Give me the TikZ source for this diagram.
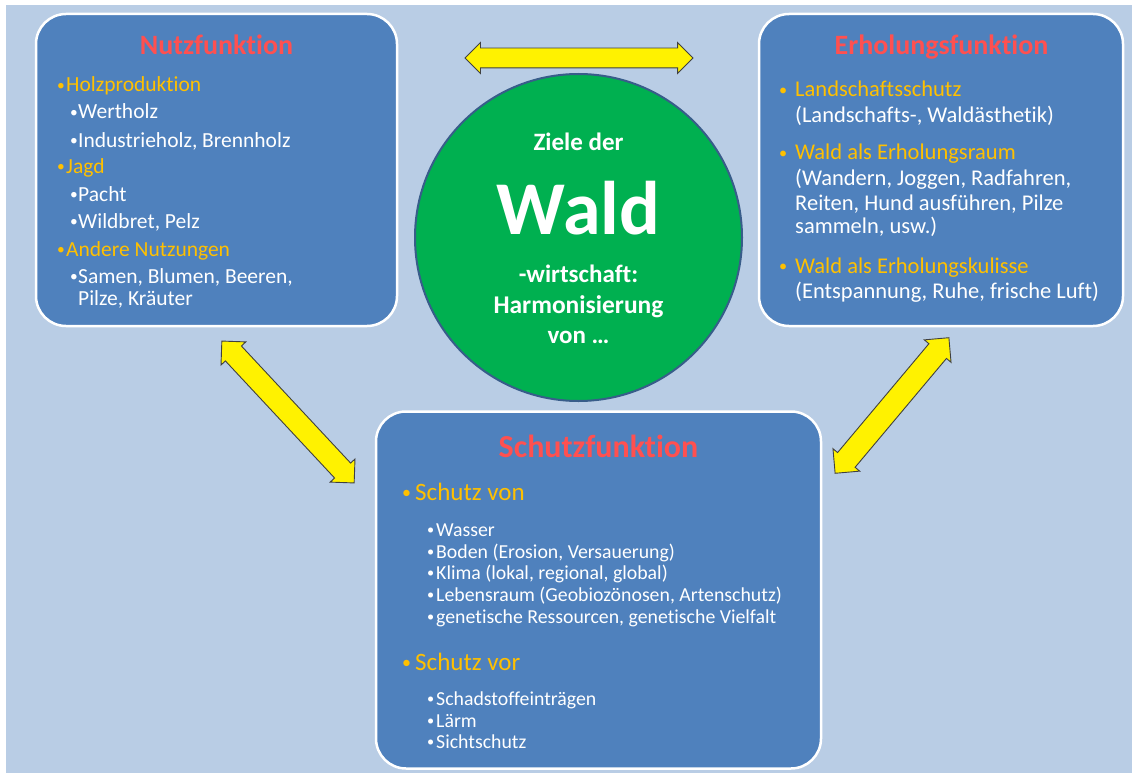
\documentclass[tikz,border=0pt]{standalone}
\usepackage{fontspec}
\setmainfont{Carlito}[Ligatures=NoCommon]
\usetikzlibrary{shapes.arrows}

\definecolor{bgblue}{RGB}{185,205,229}
\definecolor{boxblue}{RGB}{79,129,189}
\definecolor{titlered}{RGB}{255,80,80}
\definecolor{itemgold}{RGB}{255,192,0}
\definecolor{ringblue}{RGB}{56,93,138}
\definecolor{waldgreen}{RGB}{0,176,80}

\newcommand{\bul}[1]{\makebox[#1][l]{\raisebox{0.06em}{\scalebox{0.72}{\textbullet}}}}

\tikzset{
  funcbox/.style={draw=white, line width=2.5pt, fill=boxblue, rounded corners=30pt},
  boxtitle/.style={anchor=base, inner sep=0pt, text=titlered, font=\bfseries\fontsize{28}{30}\selectfont},
  head/.style={anchor=base west, inner sep=0pt, text=itemgold, font=\fontsize{21.5}{24}\selectfont},
  sub/.style={anchor=base west, inner sep=0pt, text=white, font=\fontsize{21.5}{24}\selectfont},
  erhtext/.style={font=\fontsize{22.5}{25}\selectfont},
  centre/.style={anchor=base, inner sep=0pt, text=white, font=\bfseries\fontsize{25}{28}\selectfont},
  link/.style={double arrow, draw=black!75, line width=0.9pt, fill=yellow, inner xsep=0pt,
    double arrow head extend=6pt}
}

\begin{document}
\begin{tikzpicture}[x=1pt,y=-1pt]
  \useasboundingbox (0,0) rectangle (1132,773);
  \fill[white] (0,0) rectangle (1132,773);
  \fill[bgblue] (6,5) rectangle (1132,773);

  % the three functions
  \node[funcbox, minimum width=361pt, minimum height=312pt] (nutz) at (216.5,170) {};
  \node[funcbox, minimum width=364pt, minimum height=312pt] (erh) at (941,170) {};
  \node[funcbox, minimum width=445pt, minimum height=357pt] (schutz) at (598.5,590) {};

  % centre
  \node[circle, draw=ringblue, line width=2pt, fill=waldgreen, minimum size=327pt] (wald) at (578.5,237.5) {};
  \node[centre] (ziele) at (578.5,150) {Ziele der};
  \node[centre, font=\bfseries\fontsize{76}{80}\selectfont] (waldword) at (578.5,234) {Wald};
  \node[centre] (wirt) at (578.5,282) {-wirtschaft:};
  \node[centre, font=\bfseries\fontsize{25.5}{28}\selectfont] (harm) at (578.5,313) {Harmonisierung};
  \node[centre] (von) at (578.5,343) {von …};

  % yellow arrows
  \node[link, minimum height=228pt, inner ysep=9.5pt, double arrow head extend=5.5pt] (topArrow) at (579,58) {};
  \node[link, minimum height=194pt, inner ysep=10.5pt, rotate=-47] (leftArrow) at (288,412) {};
  \node[link, minimum height=177pt, inner ysep=11pt, rotate=50] (rightArrow) at (892,405.5) {};

  % Nutzfunktion
  \node[boxtitle] (nutzT) at (216.5,55) {Nutzfunktion};
  \node[head] (holz) at (57,92) {\bul{9pt}Holzproduktion};
  \node[sub] (holz1) at (70,119) {\bul{8pt}Wertholz};
  \node[sub] (holz2) at (70,147) {\bul{8pt}Industrieholz, Brennholz};
  \node[head] (jagd) at (57,173) {\bul{9pt}Jagd};
  \node[sub] (jagd1) at (70,201) {\bul{8pt}Pacht};
  \node[sub] (jagd2) at (70,228) {\bul{8pt}Wildbret, Pelz};
  \node[head] (andere) at (57,256) {\bul{9pt}Andere Nutzungen};
  \node[sub] (andere1) at (70,283) {\bul{8pt}Samen, Blumen, Beeren,};
  \node[sub] (andere2) at (78,305) {Pilze, Kräuter};

  % Erholungsfunktion
  \node[boxtitle] (erhT) at (941.5,55) {Erholungsfunktion};
  \node[head, erhtext] (land) at (779,97) {\bul{16pt}Landschaftsschutz};
  \node[sub, erhtext] (land1) at (795,123) {(Landschafts-, Waldästhetik)};
  \node[head, erhtext] (raum) at (779,160) {\bul{16pt}Wald als Erholungsraum};
  \node[sub, erhtext] (raum1) at (795,185) {(Wandern, Joggen, Radfahren,};
  \node[sub, erhtext] (raum2) at (795,210) {Reiten, Hund ausführen, Pilze};
  \node[sub, erhtext] (raum3) at (795,233) {sammeln, usw.)};
  \node[head, erhtext] (kul) at (779,273) {\bul{16pt}Wald als Erholungskulisse};
  \node[sub, erhtext] (kul1) at (795,298) {(Entspannung, Ruhe, frische Luft)};

  % Schutzfunktion
  \node[boxtitle, font=\bfseries\fontsize{32}{34}\selectfont] (schutzT) at (598.5,457) {Schutzfunktion};
  \node[head, font=\fontsize{25}{28}\selectfont] (svon) at (402,500) {\bul{13pt}Schutz von};
  \foreach \yy/\txt [count=\i] in {536/Wasser, 558/{Boden (Erosion, Versauerung)},
      579/{Klima (lokal, regional, global)}, 601/{Lebensraum (Geobiozönosen, Artenschutz)},
      623/{genetische Ressourcen, genetische Vielfalt}}
    \node[sub, font=\fontsize{19.8}{22}\selectfont] (svon\i) at (427,\yy) {\bul{9pt}\txt};
  \node[head, font=\fontsize{25}{28}\selectfont] (svor) at (402,670) {\bul{13pt}Schutz vor};
  \foreach \yy/\txt [count=\i] in {705/Schadstoffeinträgen, 727/Lärm, 748/Sichtschutz}
    \node[sub, font=\fontsize{19.8}{22}\selectfont] (svor\i) at (427,\yy) {\bul{9pt}\txt};
\end{tikzpicture}
\end{document}
